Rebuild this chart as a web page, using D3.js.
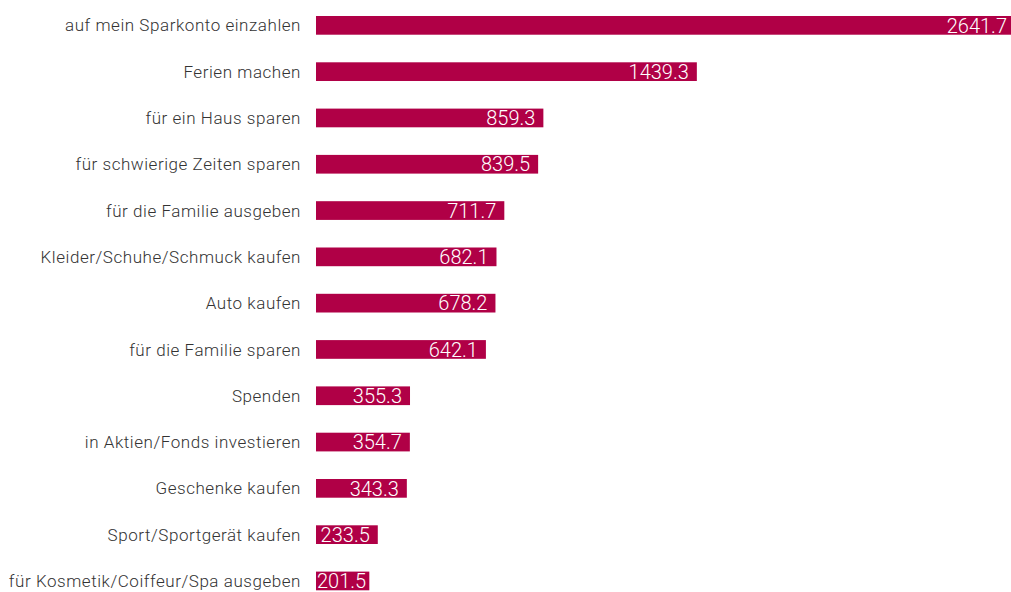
<!DOCTYPE html>
<html><head><meta charset="utf-8">
<script src="https://cdn.jsdelivr.net/npm/d3@7"></script>
<style>
html,body{margin:0;padding:0;background:#fff;}
svg{display:block;}
</style></head>
<body>
<script>
const categories = [
  "auf mein Sparkonto einzahlen",
  "Ferien machen",
  "für ein Haus sparen",
  "für schwierige Zeiten sparen",
  "für die Familie ausgeben",
  "Kleider/Schuhe/Schmuck kaufen",
  "Auto kaufen",
  "für die Familie sparen",
  "Spenden",
  "in Aktien/Fonds investieren",
  "Geschenke kaufen",
  "Sport/Sportgerät kaufen",
  "für Kosmetik/Coiffeur/Spa ausgeben"
];
const values = [2641.7, 1439.3, 859.3, 839.5, 711.7, 682.1, 678.2, 642.1, 355.3, 354.7, 343.3, 233.5, 201.5];

const W = 1011, H = 592;
const svg = d3.select("body").append("svg").attr("width", W).attr("height", H);

const x = d3.scaleLinear().domain([0, 2641.7]).range([316, 1015]);
const step = 46.3, p = 0.596;
const y = d3.scaleBand().domain(categories)
  .range([16 - p*step, 16 - p*step + step*(categories.length + p)])
  .paddingInner(p).paddingOuter(p);

const data = categories.map((c, i) => ({c, v: values[i]}));
const color = "#b00046";

svg.selectAll("rect.bar").data(data).enter().append("rect")
  .attr("class", "bar")
  .attr("x", x(0))
  .attr("y", d => y(d.c))
  .attr("width", d => x(d.v) - x(0))
  .attr("height", y.bandwidth())
  .attr("fill", color);

svg.selectAll("text.cat").data(data).enter().append("text")
  .attr("class", "cat")
  .attr("x", x(0) - 15)
  .attr("y", d => y(d.c) + y.bandwidth()/2)
  .attr("dy", "0.36em")
  .attr("text-anchor", "end")
  .attr("font-family", "Roboto, 'Liberation Sans', sans-serif")
  .attr("font-weight", 300)
  .attr("font-size", 17)
  .attr("letter-spacing", "0.55px")
  .attr("fill", "#333")
  .text(d => d.c);

const fmt = d3.format(".1f");
const vt = svg.selectAll("text.val").data(data).enter().append("text")
  .attr("class", "val")
  .attr("y", d => y(d.c) + y.bandwidth()/2)
  .attr("dy", "0.36em")
  .attr("text-anchor", "start")
  .attr("font-family", "Roboto, 'Liberation Sans', sans-serif")
  .attr("font-weight", 300)
  .attr("font-size", 20)
  .attr("fill", "#fff")
  .text(d => fmt(d.v));
vt.each(function(d){
  const w = this.getComputedTextLength();
  const xr = x(d.v) - 8;
  const xs = Math.max(xr - w, x(0) + 1);
  d3.select(this).attr("x", xs);
});
</script>
</body></html>
